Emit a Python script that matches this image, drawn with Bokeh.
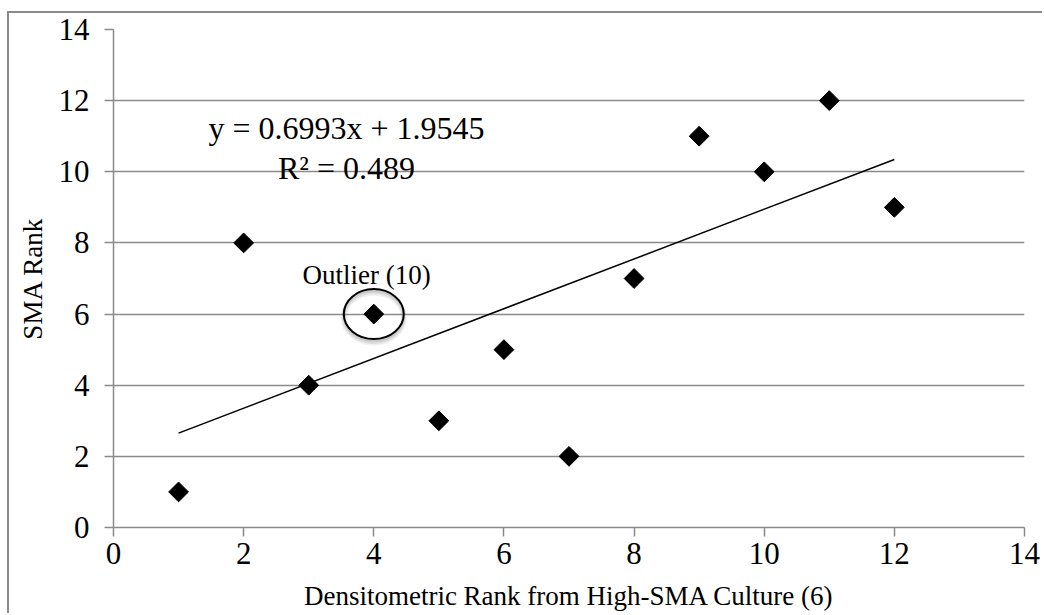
import numpy as np
from bokeh.plotting import figure
from bokeh.models import Range1d, FixedTicker, ColumnDataSource
from bokeh.core.properties import value
from bokeh.embed import file_html
from bokeh.resources import INLINE

# Data
x_rank = [1, 2, 3, 4, 5, 6, 7, 8, 9, 10, 11, 12]
sma_rank = [1, 8, 4, 6, 3, 5, 2, 7, 11, 10, 12, 9]
slope = 0.6993
intercept = 1.9545
r_squared = 0.489
outlier_index = 3
outlier_label = "Outlier (10)"
x_title = "Densitometric Rank from High-SMA Culture (6)"
y_title = "SMA Rank"
ticks = [0, 2, 4, 6, 8, 10, 12, 14]

FONT = "Liberation Serif"
GRAY = "#8a8a8a"

p = figure(width=1035, height=602, output_backend="svg", toolbar_location=None,
           x_range=Range1d(0, 14), y_range=Range1d(0, 14),
           min_border_left=104, min_border_right=20, min_border_top=16, min_border_bottom=88)
p.margin = (11, 0, 0, 7)
p.styles = {"border-left": "2px solid #8a8a8a", "border-top": "2px solid #8a8a8a"}
p.outline_line_color = None
p.background_fill_color = "white"
p.border_fill_color = "white"

p.xgrid.grid_line_color = None
p.ygrid.grid_line_color = GRAY
p.ygrid.grid_line_width = 1.5
p.ygrid.ticker = FixedTicker(ticks=ticks)

for ax in (p.xaxis, p.yaxis):
    ax.ticker = FixedTicker(ticks=ticks)
    ax.axis_line_color = GRAY
    ax.axis_line_width = 1.5
    ax.major_tick_line_color = GRAY
    ax.major_tick_line_width = 1.5
    ax.major_tick_out = 9
    ax.major_tick_in = 0
    ax.minor_tick_line_color = None
    ax.major_label_text_font = FONT
    ax.major_label_text_font_size = "31px"
    ax.major_label_text_color = "black"
    ax.axis_label_text_font = FONT
    ax.axis_label_text_font_size = "27px"
    ax.axis_label_text_font_style = "normal"
    ax.axis_label_text_color = "black"

p.xaxis.axis_label = x_title
p.yaxis.axis_label = y_title
p.xaxis.major_label_standoff = 6
p.yaxis.major_label_standoff = 15
p.xaxis.axis_label_standoff = 14
p.yaxis.axis_label_standoff = 8

# Trend line
tx = np.array([min(x_rank), max(x_rank)], dtype=float)
ty = slope * tx + intercept
p.line(tx, ty, line_color="black", line_width=1.5)

# Points
src = ColumnDataSource(dict(x=x_rank, y=sma_rank))
p.scatter("x", "y", source=src, marker="square", size=14, angle=np.pi / 4,
          fill_color="black", line_color="black")

# Outlier ellipse with soft shadow
ox, oy = x_rank[outlier_index], sma_rank[outlier_index]
for dy, alpha, lw in [(-0.10, 0.10, 6), (-0.08, 0.15, 4), (-0.06, 0.2, 2)]:
    p.ellipse(x=[ox], y=[oy + dy], width=60, height=50, width_units="screen",
              height_units="screen", fill_color=None, line_color="#777777",
              line_alpha=alpha, line_width=lw)
p.ellipse(x=[ox], y=[oy], width=60, height=50, width_units="screen",
          height_units="screen", fill_color=None, line_color="black", line_width=2)

p.text(x=[3.89], y=[7.11], text=[outlier_label], text_font=value(FONT),
       text_font_size="27px", text_align="center", text_baseline="alphabetic",
       text_color="black")

eq1 = f"y = {slope:.4f}x + {intercept:.4f}"
eq2 = f"R\u00b2 = {r_squared:.3f}"
p.text(x=[3.58, 3.58], y=[11.22, 10.12], text=[eq1, eq2], text_font=value(FONT),
       text_font_size="32px", text_align="center", text_baseline="alphabetic",
       text_color="black")

open("out.html", "w").write(file_html(p, INLINE))
